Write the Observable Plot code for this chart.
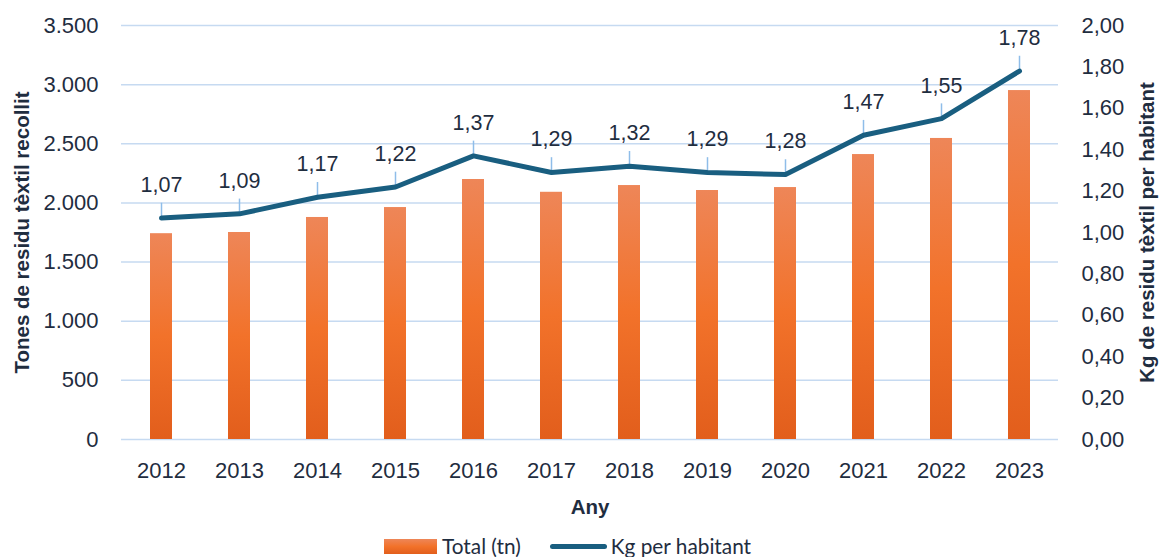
<!DOCTYPE html>
<html>
<head>
<meta charset="utf-8">
<script src="https://cdn.jsdelivr.net/npm/d3@7"></script>
<script src="https://cdn.jsdelivr.net/npm/@observablehq/plot@0.6"></script>
<style>
  html, body { margin: 0; padding: 0; background: #fff; }
  body { width: 1164px; height: 557px; position: relative; overflow: hidden; }
  #legend { position: absolute; left: 384px; top: 534px; display: flex; align-items: center;
    font-family: Lato, "Noto Sans", sans-serif; font-size: 20.8px; line-height: 24px; color: #1f2d3f; white-space: nowrap; }
</style>
</head>
<body>
<div id="chart"></div>
<div id="legend">
  <span style="display:inline-block;width:53px;height:15px;background:linear-gradient(#ee8658,#f2722a,#e25e1c)"></span>
  <span style="margin-left:5px">Total (tn)</span>
  <span style="display:inline-block;width:57px;height:5px;border-radius:3px;background:#195e80;margin-left:29px"></span>
  <span style="margin-left:4px">Kg per habitant</span>
</div>
<script>
const years = ["2012","2013","2014","2015","2016","2017","2018","2019","2020","2021","2022","2023"];
const tons = [1740, 1750, 1877, 1961, 2198, 2090, 2147, 2105, 2130, 2409, 2545, 2950];
const kgPerHab = [1.07, 1.09, 1.17, 1.22, 1.37, 1.29, 1.32, 1.29, 1.28, 1.47, 1.55, 1.78];
const leftTicks = [0, 500, 1000, 1500, 2000, 2500, 3000, 3500];
const rightTicks = [0, 0.2, 0.4, 0.6, 0.8, 1.0, 1.2, 1.4, 1.6, 1.8, 2.0];

const K = 3500 / 2; // right axis 0..2 mapped onto left 0..3500
const rows = years.map((y, i) => ({year: y, tons: tons[i], kg: kgPerHab[i]}));

const locale = d3.formatLocale({decimal: ",", thousands: ".", grouping: [3], currency: ["", " €"]});
const fmtTons = locale.format(",.0f");
const fmtKg = locale.format(".2f");

const textColor = "#1f2d3f";

const chart = Plot.plot({
  width: 1164,
  height: 527,
  marginLeft: 121,
  marginRight: 106,
  marginTop: 25,
  marginBottom: 88,
  style: {fontFamily: "'Liberation Sans', Arial, sans-serif", fontSize: "22px", color: textColor, background: "#fff"},
  x: {domain: years, paddingInner: 0.72, paddingOuter: 0.36},
  y: {domain: [0, 3500]},
  marks: [
    Plot.gridY(leftTicks, {stroke: "#c6daf1", strokeOpacity: 1, strokeWidth: 1.5}),
    Plot.barY(rows, {x: "year", y: "tons", fill: "url(#barGrad)"}),
    Plot.ruleX(rows, {x: "year", y1: d => d.kg * K + 12, y2: d => d.kg * K + 125, stroke: "#8fbde9", strokeWidth: 1.5}),
    Plot.line(rows, {x: "year", y: d => d.kg * K, stroke: "#195e80", strokeWidth: 5, strokeLinecap: "round", strokeLinejoin: "round"}),
    Plot.text(rows, {x: "year", y: d => d.kg * K, text: d => fmtKg(d.kg), dy: -33, fontSize: 21.5, fill: textColor}),
    Plot.axisY(leftTicks, {anchor: "left", tickSize: 0, tickPadding: 23, tickFormat: fmtTons, label: null, fontSize: 22}),
    Plot.axisY(rightTicks.map(v => v * K), {anchor: "right", tickSize: 0, tickPadding: 23, tickFormat: d => fmtKg(d / K), label: null, fontSize: 22}),
    Plot.axisX({tickSize: 0, tickPadding: 23, label: null, fontSize: 22}),
    Plot.text(["Tones de residu tèxtil recollit"], {frameAnchor: "left", dx: -99, rotate: -90, textAnchor: "middle", lineAnchor: "middle", fontWeight: "bold", fontSize: 20.5, fill: textColor}),
    Plot.text(["Kg de residu tèxtil per habitant"], {frameAnchor: "right", dx: 89, rotate: -90, textAnchor: "middle", lineAnchor: "middle", fontWeight: "bold", fontSize: 20.5, fill: textColor}),
    Plot.text(["Any"], {frameAnchor: "bottom", dy: 68, textAnchor: "middle", lineAnchor: "middle", fontWeight: "bold", fontSize: 20.5, fill: textColor})
  ]
});

d3.select(chart).insert("defs", ":first-child").html(
  '<linearGradient id="barGrad" x1="0" y1="0" x2="0" y2="1">' +
  '<stop offset="0%" stop-color="#ee8658"/>' +
  '<stop offset="50%" stop-color="#f2722a"/>' +
  '<stop offset="100%" stop-color="#e25e1c"/>' +
  '</linearGradient>'
);

document.getElementById("chart").appendChild(chart);
</script>
</body>
</html>
